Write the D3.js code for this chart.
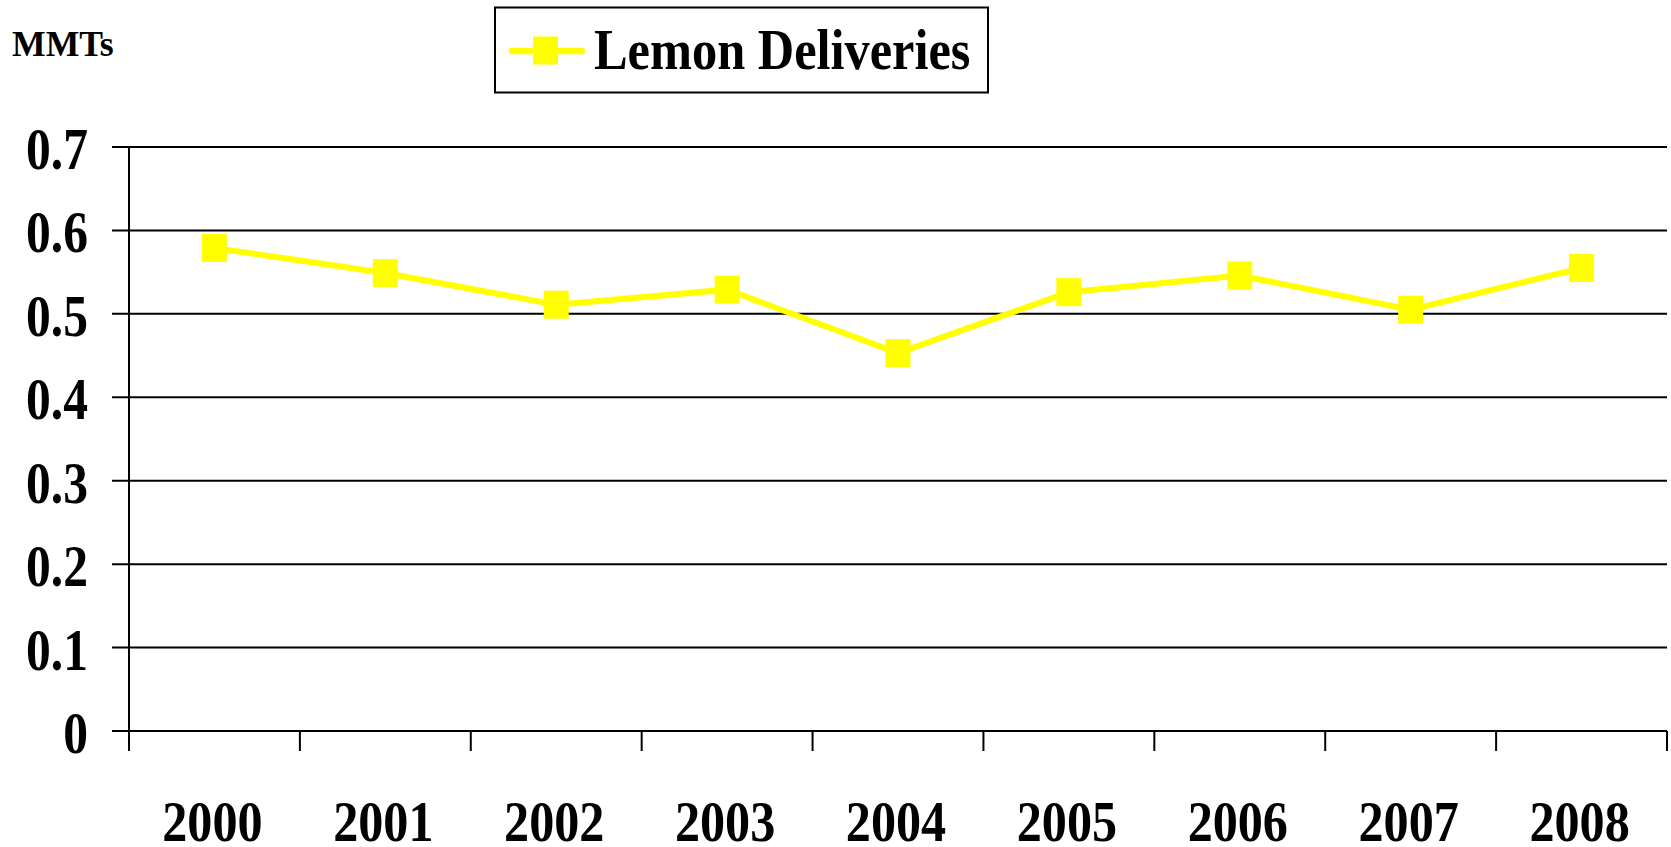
<!DOCTYPE html>
<html>
<head>
<meta charset="utf-8">
<script src="https://cdn.jsdelivr.net/npm/d3@7"></script>
<style>
  body { margin: 0; background: #fff; }
  svg text { font-family: "Liberation Serif", "Times New Roman", serif; font-weight: bold; fill: #000; }
</style>
</head>
<body>
<svg width="1671" height="847"></svg>
<script>
'use strict';

// data
const years = ["2000", "2001", "2002", "2003", "2004", "2005", "2006", "2007", "2008"];
const deliveries = [0.579, 0.549, 0.511, 0.529, 0.453, 0.526, 0.546, 0.505, 0.555];
const yTicks = [0, 0.1, 0.2, 0.3, 0.4, 0.5, 0.6, 0.7];
const seriesName = "Lemon Deliveries";
const unitLabel = "MMTs";

const svg = d3.select("svg");

const plotLeft = 129, plotRight = 1667, plotTop = 147, plotBottom = 731;
const yellow = "#ffff00";

const x = d3.scaleBand().domain(years).range([plotLeft, plotRight]).padding(0);
const y = d3.scaleLinear().domain([0, 0.7]).range([plotBottom, plotTop]);

// horizontal gridlines + y ticks (they start left of the axis)
svg.append("g")
  .selectAll("line")
  .data(yTicks)
  .join("line")
  .attr("x1", 112).attr("x2", plotRight)
  .attr("y1", d => y(d)).attr("y2", d => y(d))
  .attr("stroke", "#000").attr("stroke-width", 2);

// y axis line, goes down a bit past 0 like the first x tick
svg.append("line")
  .attr("x1", plotLeft).attr("x2", plotLeft)
  .attr("y1", plotTop).attr("y2", plotBottom + 20)
  .attr("stroke", "#000").attr("stroke-width", 2);

// x ticks at band boundaries
const bounds = years.map(d => x(d)).concat([x.range()[1]]);
svg.append("g")
  .selectAll("line")
  .data(bounds)
  .join("line")
  .attr("x1", d => d).attr("x2", d => d)
  .attr("y1", plotBottom).attr("y2", plotBottom + 20)
  .attr("stroke", "#000").attr("stroke-width", 2);

// y labels
svg.append("g")
  .selectAll("text")
  .data(yTicks)
  .join("text")
  .attr("transform", d => `translate(88,${y(d) + 22}) scale(0.84,1)`)
  .attr("text-anchor", "end")
  .attr("font-size", 59)
  .text(d => d3.format("")(d));

// x labels
svg.append("g")
  .selectAll("text")
  .data(years)
  .join("text")
  .attr("transform", d => `translate(${x(d) + x.bandwidth() / 2 - 2},841) scale(0.88,1)`)
  .attr("text-anchor", "middle")
  .attr("font-size", 57)
  .text(d => d);

// the series line
const line = d3.line()
  .x((d, i) => x(years[i]) + x.bandwidth() / 2)
  .y(d => y(d));

svg.append("path")
  .datum(deliveries)
  .attr("d", line)
  .attr("fill", "none")
  .attr("stroke", yellow)
  .attr("stroke-width", 6)
  .attr("stroke-linejoin", "miter");

svg.append("g")
  .selectAll("rect")
  .data(deliveries)
  .join("rect")
  .attr("x", (d, i) => x(years[i]) + x.bandwidth() / 2 - 12.5)
  .attr("y", d => y(d) - 14)
  .attr("width", 25)
  .attr("height", 28)
  .attr("fill", yellow);

// unit label
svg.append("text")
  .attr("transform", "translate(12,56) scale(0.99,1)")
  .attr("font-size", 36)
  .text(unitLabel);

// legend
const legend = svg.append("g");
legend.append("rect")
  .attr("x", 495).attr("y", 7.5)
  .attr("width", 493).attr("height", 85)
  .attr("fill", "#fff").attr("stroke", "#000").attr("stroke-width", 2);
legend.append("line")
  .attr("x1", 512).attr("x2", 582)
  .attr("y1", 51).attr("y2", 51)
  .attr("stroke", yellow).attr("stroke-width", 6.5)
  .attr("stroke-linecap", "round");
legend.append("rect")
  .attr("x", 533).attr("y", 36.5)
  .attr("width", 25).attr("height", 28)
  .attr("fill", yellow);
legend.append("text")
  .attr("transform", "translate(594,69) scale(0.9,1)")
  .attr("font-size", 56)
  .text(seriesName);
</script>
</body>
</html>
